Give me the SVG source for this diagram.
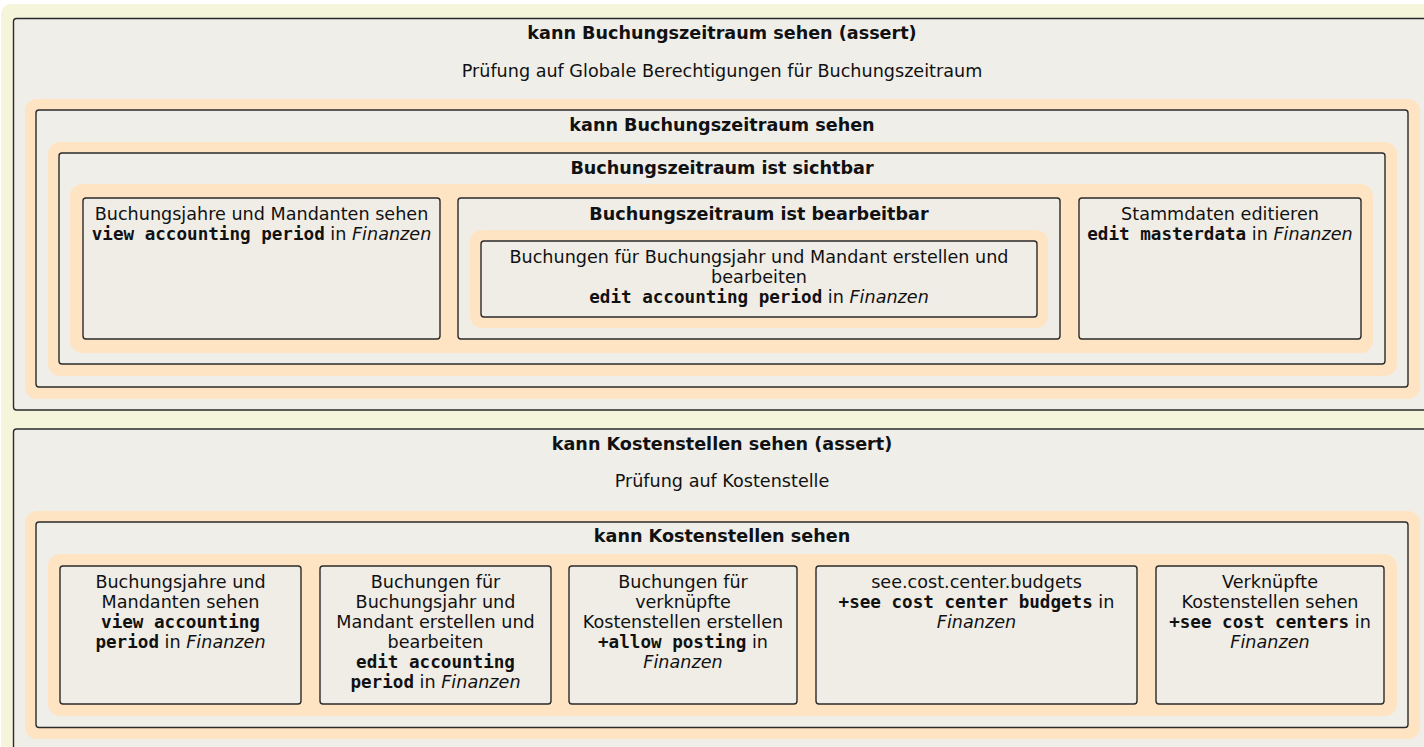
<svg xmlns="http://www.w3.org/2000/svg" width="1424" height="747" viewBox="0 0 1424 747">
<style>
.bg{fill:#f5f5dc}
.cl{fill:#efeee9;stroke:#2a2a2a;stroke-width:1.4}
.halo{fill:#ffe4c4}
.nd{fill:#f0ede7;stroke:#2a2a2a;stroke-width:1.4}
text{font-family:"DejaVu Sans","Liberation Sans",sans-serif;font-size:17.6px;fill:#111;text-anchor:middle}
.b{font-weight:bold}
.m{font-family:"DejaVu Sans Mono","Liberation Mono",monospace;font-weight:bold}
.i{font-style:italic}
</style>
<rect class="bg" x="1" y="4" width="1600" height="900" rx="10"/>
<g id="assert-buchungszeitraum">
<rect class="cl" x="13.5" y="18.5" width="1420" height="391.5" rx="3"/>
<text class="b" x="722" y="39">kann Buchungszeitraum sehen (assert)</text>
<text x="722" y="77">Prüfung auf Globale Berechtigungen für Buchungszeitraum</text>
</g>
<g id="kann-buchungszeitraum-sehen">
<rect class="halo" x="25" y="99" width="1395" height="300" rx="12"/>
<rect class="cl" x="36" y="110" width="1372" height="277" rx="3"/>
<text class="b" x="722" y="131">kann Buchungszeitraum sehen</text>
</g>
<g id="buchungszeitraum-sichtbar">
<rect class="halo" x="48" y="142" width="1349" height="234" rx="12"/>
<rect class="cl" x="59" y="153" width="1326" height="211" rx="3"/>
<text class="b" x="722" y="173.5">Buchungszeitraum ist sichtbar</text>
<rect class="halo" x="70" y="184" width="1303" height="169" rx="12"/>
</g>
<g id="view-accounting-period">
<rect class="nd" x="83" y="198" width="357" height="141" rx="3"/>
<text x="261.5" y="220">Buchungsjahre und Mandanten sehen</text>
<text x="261.5" y="240"><tspan class="m">view accounting period</tspan> in <tspan class="i">Finanzen</tspan></text>
</g>
<g id="buchungszeitraum-bearbeitbar">
<rect class="nd" x="458" y="198" width="602" height="141" rx="3"/>
<text class="b" x="759" y="219.5">Buchungszeitraum ist bearbeitbar</text>
<rect class="halo" x="470" y="230" width="578" height="98" rx="12"/>
</g>
<g id="edit-accounting-period">
<rect class="nd" x="481" y="241" width="556" height="76" rx="3"/>
<text x="759" y="263">Buchungen für Buchungsjahr und Mandant erstellen und</text>
<text x="759" y="283">bearbeiten</text>
<text x="759" y="303"><tspan class="m">edit accounting period</tspan> in <tspan class="i">Finanzen</tspan></text>
</g>
<g id="edit-masterdata">
<rect class="nd" x="1079" y="198" width="282" height="141" rx="3"/>
<text x="1220" y="220">Stammdaten editieren</text>
<text x="1220" y="240"><tspan class="m">edit masterdata</tspan> in <tspan class="i">Finanzen</tspan></text>
</g>
<g id="assert-kostenstellen">
<rect class="cl" x="13.5" y="429" width="1420" height="400" rx="3"/>
<text class="b" x="722" y="450">kann Kostenstellen sehen (assert)</text>
<text x="722" y="486.5">Prüfung auf Kostenstelle</text>
</g>
<g id="kann-kostenstellen-sehen">
<rect class="halo" x="25" y="511" width="1395" height="228" rx="12"/>
<rect class="cl" x="36" y="522" width="1372" height="205.5" rx="3"/>
<text class="b" x="722" y="542">kann Kostenstellen sehen</text>
<rect class="halo" x="48" y="554" width="1349" height="162" rx="12"/>
</g>
<g id="k-view-accounting-period">
<rect class="nd" x="60" y="566" width="241" height="138" rx="3"/>
<text x="180.5" y="588">Buchungsjahre und</text>
<text x="180.5" y="608">Mandanten sehen</text>
<text x="180.5" y="628"><tspan class="m">view accounting</tspan></text>
<text x="180.5" y="648"><tspan class="m">period</tspan> in <tspan class="i">Finanzen</tspan></text>
</g>
<g id="k-edit-accounting-period">
<rect class="nd" x="320" y="566" width="231" height="138" rx="3"/>
<text x="435.5" y="588">Buchungen für</text>
<text x="435.5" y="608">Buchungsjahr und</text>
<text x="435.5" y="628">Mandant erstellen und</text>
<text x="435.5" y="648">bearbeiten</text>
<text x="435.5" y="668"><tspan class="m">edit accounting</tspan></text>
<text x="435.5" y="688"><tspan class="m">period</tspan> in <tspan class="i">Finanzen</tspan></text>
</g>
<g id="k-allow-posting">
<rect class="nd" x="569" y="566" width="228" height="138" rx="3"/>
<text x="683" y="588">Buchungen für</text>
<text x="683" y="608">verknüpfte</text>
<text x="683" y="628">Kostenstellen erstellen</text>
<text x="683" y="648"><tspan class="m">+allow posting</tspan> in</text>
<text x="683" y="668"><tspan class="i">Finanzen</tspan></text>
</g>
<g id="k-see-cost-center-budgets">
<rect class="nd" x="816" y="566" width="321" height="138" rx="3"/>
<text x="976.5" y="588">see.cost.center.budgets</text>
<text x="976.5" y="608"><tspan class="m">+see cost center budgets</tspan> in</text>
<text x="976.5" y="628"><tspan class="i">Finanzen</tspan></text>
</g>
<g id="k-see-cost-centers">
<rect class="nd" x="1156" y="566" width="228" height="138" rx="3"/>
<text x="1270" y="588">Verknüpfte</text>
<text x="1270" y="608">Kostenstellen sehen</text>
<text x="1270" y="628"><tspan class="m">+see cost centers</tspan> in</text>
<text x="1270" y="648"><tspan class="i">Finanzen</tspan></text>
</g>
<g id="connectors"></g>
</svg>
